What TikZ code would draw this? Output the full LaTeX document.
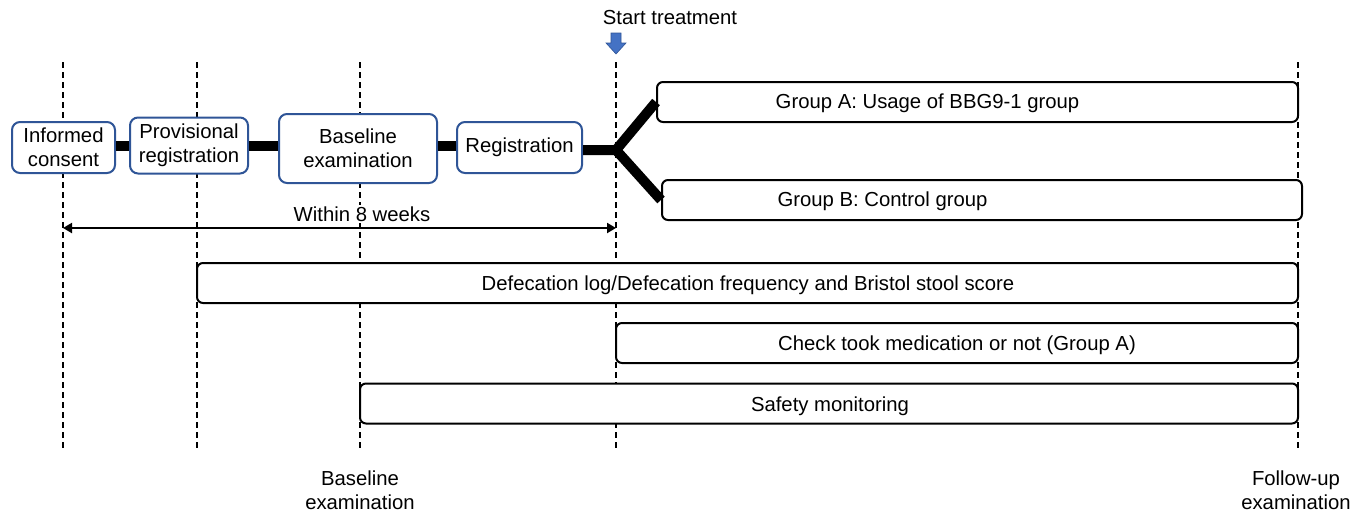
\documentclass[tikz,border=0pt]{standalone}
\usepackage{fontspec}
\setmainfont{Liberation Sans}
\usetikzlibrary{arrows.meta}
\definecolor{stepblue}{RGB}{47,85,151}
\definecolor{arrowblue}{RGB}{68,114,196}
\tikzset{
  stepbox/.style={draw=stepblue, line width=2pt, rounded corners=8pt, align=center, inner sep=0pt, fill=white},
  phasebox/.style={draw=black, line width=2pt, rounded corners=6pt, inner sep=0pt, minimum height=40pt, fill=white},
  link/.style={line width=10pt, line join=round},
  guide/.style={line width=1.2pt, dash pattern=on 6pt off 4pt},
  txt/.style={inner sep=0pt, align=center}
}
\begin{document}
\begin{tikzpicture}[x=1pt,y=-1pt,font=\fontsize{20.3}{24}\selectfont]
\useasboundingbox (0,0) rectangle (1371,512);

% vertical dashed guides
\foreach \n/\x in {a/63,b/197,c/360,d/616,e/1298}{
  \coordinate (top\n) at (\x,62);
  \coordinate (bot\n) at (\x,450);
  \draw[guide] (top\n) -- (bot\n);
}

% enrolment steps
\node[stepbox, minimum width=103pt, minimum height=51pt] (ic) at (63.5,147.5) {Informed\\consent};
\node[stepbox, minimum width=118pt, minimum height=56pt] (pr) at (189,145.5) {Provisional\\registration};
\node[stepbox, minimum width=158pt, minimum height=69pt] (be) at (358,148.5) {Baseline\\examination};
\node[stepbox, minimum width=125pt, minimum height=51pt] (rg) at (519.5,147.5) {Registration};

% randomised groups
\node[phasebox, minimum width=641pt] (ga) at (977.5,102) {};
\node[txt] (gatext) at (927.5,103) {Group A: Usage of BBG9-1 group};
\node[phasebox, minimum width=640pt] (gb) at (982,200) {};
\node[txt] (gbtext) at (882.5,201) {Group B: Control group};

% thick connectors
\coordinate (lk) at (0,146);
\coordinate (jn) at (616,150);
\draw[link] (ic.east |- lk) -- (pr.west |- lk);
\draw[link] (pr.east |- lk) -- (be.west |- lk);
\draw[link] (be.east |- lk) -- (rg.west |- lk);
\draw[link] (rg.east |- jn) -- (jn) -- (ga.west);
\draw[link] (jn) -- (gb.west);

% start treatment marker
\node[txt] (st) at (670,18) {Start treatment};
\draw[draw=stepblue, fill=arrowblue, line width=0.6pt]
  (611,33) -- (621,33) -- (621,43) -- (626,43) -- (616,54) -- (606,43) -- (611,43) -- cycle;

% screening window
\coordinate (wl) at (63,228);
\coordinate (wr) at (616,228);
\draw[line width=2pt, {Triangle[length=9pt,width=10pt]}-{Triangle[length=9pt,width=10pt]}] (wl) -- (wr);
\node[txt, fill=white, inner xsep=1pt, inner ysep=2pt] (within) at (362,214) {Within 8 weeks};

% observation periods
\node[phasebox, minimum width=1101pt] (df) at (747.5,283) {};
\node[txt] (dftext) at (748,285) {Defecation log/Defecation frequency and Bristol stool score};
\node[phasebox, minimum width=682pt] (ck) at (957,343) {};
\node[txt] (cktext) at (957,345) {Check took medication or not (Group A)};
\node[phasebox, minimum width=938pt] (sm) at (829,403.5) {};
\node[txt] (smtext) at (830,406) {Safety monitoring};

% time-point labels
\node[txt] (blab) at (360,490) {Baseline\\examination};
\node[txt] (flab) at (1296,490) {Follow-up\\examination};
\end{tikzpicture}
\end{document}
